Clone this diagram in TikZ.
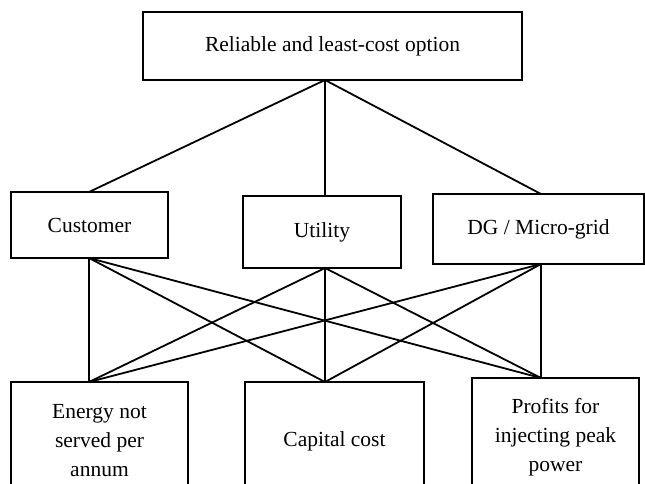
\documentclass[tikz,border=0pt]{standalone}
\usepackage{fontspec}
\setmainfont{Liberation Serif}
\begin{document}
\begin{tikzpicture}[x=1pt,y=-1pt,
  box/.style={draw,line width=1.8pt,rectangle,inner sep=0pt,align=center,
    font=\fontsize{21.5}{29}\selectfont},
  link/.style={line width=1.8pt}]
\useasboundingbox (0,0) rectangle (645,483);
\clip (0,0) rectangle (645,483);
% top
\node[box,minimum width=379pt,minimum height=68pt] (top) at (332.5,46) {Reliable and least-cost option};
% middle level
\node[box,minimum width=157pt,minimum height=66pt] (cust) at (89.5,225) {Customer};
\node[box,minimum width=158pt,minimum height=72pt] (util) at (322,232) {Utility};
\node[box,minimum width=211pt,minimum height=70pt] (dg) at (538.5,229) {DG / Micro-grid};
% bottom level
\node[box,minimum width=177pt,minimum height=118pt] (ens) at (99.5,441) {Energy not\\served per\\annum};
\node[box,minimum width=179pt,minimum height=118pt] (cap) at (334.5,441) {Capital cost};
\node[box,minimum width=167pt,minimum height=118pt] (prof) at (555.5,437) {Profits for\\injecting peak\\power};
% connection points
\coordinate (topS) at (325,80);
\coordinate (custN) at (89,192);
\coordinate (utilN) at (325,196);
\coordinate (dgN) at (541,194);
\coordinate (custS) at (89,258);
\coordinate (utilS) at (325,268);
\coordinate (dgS) at (541,264);
\coordinate (ensN) at (89,382);
\coordinate (capN) at (325,382);
\coordinate (profN) at (541,378);
% connectors
\draw[link] (topS) -- (custN);
\draw[link] (topS) -- (utilN);
\draw[link] (topS) -- (dgN);
\foreach \a in {custS,utilS,dgS}{
  \foreach \b in {ensN,capN,profN}{
    \draw[link] (\a) -- (\b);
  }
}
\end{tikzpicture}
\end{document}
